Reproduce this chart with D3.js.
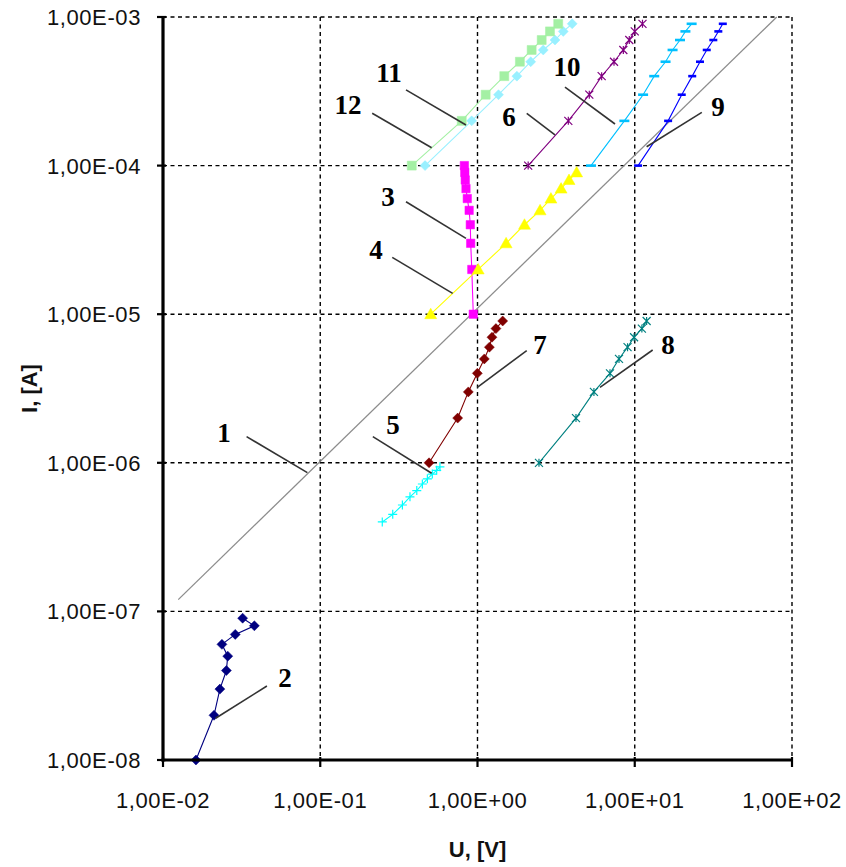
<!DOCTYPE html>
<html>
<head>
<meta charset="utf-8">
<script src="https://cdn.jsdelivr.net/npm/d3@7"></script>
<style>
  body { margin: 0; background: #fff; }
  svg { display: block; }
</style>
</head>
<body>
<svg id="chart"></svg>
<script>
// Axis decades
const xTicks = [1e-2, 1e-1, 1e0, 1e1, 1e2];
const yTicks = [1e-8, 1e-7, 1e-6, 1e-5, 1e-4, 1e-3];
const xTickLabels = ["1,00E-02", "1,00E-01", "1,00E+00", "1,00E+01", "1,00E+02"];
const yTickLabels = ["1,00E-08", "1,00E-07", "1,00E-06", "1,00E-05", "1,00E-04", "1,00E-03"];

// Series values, U in volts, I in amperes
const s1U = [0.0125, 80];
const s1I = [1.2e-7, 1e-3];
const s2U = [0.0162, 0.0211, 0.0230, 0.0253, 0.0258, 0.0237, 0.0288, 0.0381, 0.0321];
const s2I = [1e-8, 2e-8, 3e-8, 4e-8, 5e-8, 6e-8, 7e-8, 8e-8, 9e-8];
const s3U = [0.94, 0.92, 0.905, 0.90, 0.885, 0.861, 0.845, 0.836, 0.83, 0.825];
const s3I = [1e-5, 2e-5, 3e-5, 4e-5, 5e-5, 6e-5, 7e-5, 8e-5, 9e-5, 1e-4];
const s4U = [0.504, 1.01, 1.52, 1.99, 2.50, 2.93, 3.40, 3.82, 4.27];
const s4I = [1e-5, 2e-5, 3e-5, 4e-5, 5e-5, 6e-5, 7e-5, 8e-5, 9e-5];
const s5U = [0.248, 0.289, 0.333, 0.372, 0.411, 0.446, 0.480, 0.516, 0.550, 0.577];
const s5I = [4e-7, 4.5e-7, 5.2e-7, 5.9e-7, 6.5e-7, 7.2e-7, 7.8e-7, 8.4e-7, 8.9e-7, 9.4e-7];
const s6U = [2.10, 3.78, 5.14, 6.16, 7.38, 8.46, 9.23, 10.0, 11.2];
const s6I = [1e-4, 2e-4, 3e-4, 4e-4, 5e-4, 6e-4, 7e-4, 8e-4, 9e-4];
const s7U = [0.492, 0.748, 0.874, 0.997, 1.105, 1.19, 1.236, 1.31, 1.446];
const s7I = [1e-6, 2e-6, 3e-6, 4e-6, 5e-6, 6e-6, 7e-6, 8e-6, 9e-6];
const s8U = [2.46, 4.23, 5.5, 6.96, 7.94, 9.0, 9.9, 11.1, 11.9];
const s8I = [1e-6, 2e-6, 3e-6, 4e-6, 5e-6, 6e-6, 7e-6, 8e-6, 9e-6];
const s9U = [10.5, 16.3, 19.9, 23.2, 26.0, 28.7, 31.6, 34.0, 36.3];
const s9I = [1e-4, 2e-4, 3e-4, 4e-4, 5e-4, 6e-4, 7e-4, 8e-4, 9e-4];
const s10U = [5.27, 8.59, 11.3, 13.3, 15.7, 17.4, 19.4, 21.0, 23.0];
const s10I = [1e-4, 2e-4, 3e-4, 4e-4, 5e-4, 6e-4, 7e-4, 8e-4, 9e-4];
const s11U = [0.464, 0.918, 1.36, 1.78, 2.18, 2.62, 3.11, 3.51, 4.0];
const s11I = [1e-4, 2e-4, 3e-4, 4e-4, 5e-4, 6e-4, 7e-4, 8e-4, 9e-4];
const s12U = [0.382, 0.794, 1.127, 1.48, 1.86, 2.21, 2.56, 2.89, 3.26];
const s12I = [1e-4, 2e-4, 3e-4, 4e-4, 5e-4, 6e-4, 7e-4, 8e-4, 9e-4];

// Curve numbers: text anchor and leader line, all in (U, I)
const labelText = ["1", "2", "3", "4", "5", "6", "7", "8", "9", "10", "11", "12"];
const labelAt = [[0.0244, 1.6e-6], [0.0597, 3.56e-8], [0.27, 6.15e-5], [0.226, 2.7e-5],
  [0.29, 1.8e-6], [1.586, 2.12e-4], [2.497, 6.21e-6], [16.27, 6.21e-6],
  [33.8, 2.48e-4], [3.71, 4.61e-4], [0.274, 4.2e-4], [0.15, 2.56e-4]];
const leaderFrom = [[0.034, 1.5e-6], [0.0458, 3.15e-8], [0.351, 5.71e-5], [0.287, 2.41e-5],
  [0.216, 1.5e-6], [2.056, 2.25e-4], [2.056, 5.68e-6], [13.0, 5.74e-6],
  [26.7, 2.28e-4], [3.6, 3.37e-4], [0.351, 3.23e-4], [0.214, 2.25e-4]];
const leaderTo = [[0.0828, 8.58e-7], [0.0216, 1.91e-8], [0.845, 3.24e-5], [0.695, 1.38e-5],
  [0.511, 8.5e-7], [3.11, 1.61e-4], [0.997, 3.22e-6], [6.01, 3.22e-6],
  [11.9, 1.34e-4], [7.49, 1.905e-4], [0.845, 1.876e-4], [0.511, 1.32e-4]];

const width = 846, height = 867;
const margin = {top: 17, right: 54, bottom: 107, left: 163};

const svg = d3.select("#chart")
  .attr("width", width)
  .attr("height", height)
  .attr("viewBox", [0, 0, width, height]);

const x = d3.scaleLog().domain([1e-2, 1e2]).range([margin.left, width - margin.right]);
const y = d3.scaleLog().domain([1e-8, 1e-3]).range([height - margin.bottom, margin.top]);

// Dashed decade grid (also closes the plot on top and right)
const grid = svg.append("g").attr("stroke", "#000").attr("stroke-width", 1.4)
  .attr("stroke-dasharray", "4,3.5");
grid.selectAll("line.gx").data(xTicks.slice(1)).join("line")
  .attr("x1", d => x(d)).attr("x2", d => x(d))
  .attr("y1", y(1e-3)).attr("y2", y(1e-8));
grid.selectAll("line.gy").data(yTicks.slice(1)).join("line")
  .attr("x1", x(1e-2)).attr("x2", x(1e2))
  .attr("y1", d => y(d)).attr("y2", d => y(d));

// Series styles
const series = [
  {u: s1U, i: s1I, color: "#8c8c8c", marker: null, w: 1.3},
  {u: s2U, i: s2I, color: "#000080", marker: "diamond", size: 5},
  {u: s3U, i: s3I, color: "#ff00ff", marker: "square", size: 4.2},
  {u: s4U, i: s4I, color: "#ffff00", marker: "triangle", size: 6},
  {u: s5U, i: s5I, color: "#00ffff", marker: "plus", size: 4.5},
  {u: s6U, i: s6I, color: "#800080", marker: "star", size: 4},
  {u: s7U, i: s7I, color: "#800000", marker: "diamond", size: 5},
  {u: s8U, i: s8I, color: "#008080", marker: "star", size: 4},
  {u: s9U, i: s9I, color: "#0000ff", marker: "dash", size: 4},
  {u: s10U, i: s10I, color: "#00c0ff", marker: "dash", size: 5},
  {u: s11U, i: s11I, color: "#99f0ff", marker: "diamond", size: 5},
  {u: s12U, i: s12I, color: "#a4f0a4", marker: "square", size: 4.5}
];

function markerPath(kind, s) {
  if (kind == "diamond") return `M0,${-s}L${s},0L0,${s}L${-s},0Z`;
  if (kind == "square") return `M${-s},${-s}H${s}V${s}H${-s}Z`;
  if (kind == "triangle") return `M0,${-s}L${s},${s * 0.75}L${-s},${s * 0.75}Z`;
  if (kind == "plus") return `M${-s},0H${s}M0,${-s}V${s}`;
  if (kind == "star") return `M${-s},${-s}L${s},${s}M${-s},${s}L${s},${-s}M0,${-s}V${s}`;
  if (kind == "dash") return `M${-s},0H${s}`;
  return "";
}

const line = d3.line().x(d => x(d[0])).y(d => y(d[1]));

// Draw every curve.
const curves = svg.append("g");
series.forEach((s) => {
  let pts = s.u.map((u, k) => [u, s.i[k]]);
  curves.append("path")
    .attr("d", line(pts))
    .attr("fill", "none")
    .attr("stroke", s.color)
    .attr("stroke-width", s.w || 1.1);
  if (s.marker == null) return;
  let filled = s.marker == "diamond" || s.marker == "square" || s.marker == "triangle";
  curves.append("g").selectAll("path").data(pts).join("path")
    .attr("transform", d => "translate(" + x(d[0]) + "," + y(d[1]) + ")")
    .attr("d", markerPath(s.marker, s.size))
    .attr("fill", filled ? s.color : "none")
    .attr("stroke", s.color)
    .attr("stroke-width", s.marker == "dash" ? 2.6 : (filled ? 0.5 : 1.2));
});

// Axes: thick black lines with crossing ticks
const axes = svg.append("g").attr("stroke", "#000");
axes.append("line")
  .attr("x1", x(1e-2)).attr("x2", x(1e-2))
  .attr("y1", y(1e-3) - 1).attr("y2", y(1e-8) + 1.5)
  .attr("stroke-width", 3.2);
axes.append("line")
  .attr("x1", x(1e-2) - 1.5).attr("x2", x(1e2) + 1)
  .attr("y1", y(1e-8)).attr("y2", y(1e-8))
  .attr("stroke-width", 3.2);
axes.selectAll("line.ty").data(yTicks).join("line")
  .attr("x1", x(1e-2) - 6).attr("x2", x(1e-2) + 3)
  .attr("y1", d => y(d)).attr("y2", d => y(d))
  .attr("stroke-width", 2.2);
axes.selectAll("line.tx").data(xTicks).join("line")
  .attr("x1", d => x(d)).attr("x2", d => x(d))
  .attr("y1", y(1e-8) - 3).attr("y2", y(1e-8) + 7)
  .attr("stroke-width", 2.2);

// Tick labels
const tickFont = "'Liberation Sans', Arial, sans-serif";
svg.append("g").selectAll("text").data(yTicks).join("text")
  .attr("x", x(1e-2) - 22)
  .attr("y", d => y(d))
  .attr("dy", "0.36em")
  .attr("text-anchor", "end")
  .attr("font-family", tickFont)
  .attr("font-size", 22)
  .attr("letter-spacing", 0.6)
  .attr("fill", "#111")
  .text((d, k) => yTickLabels[k]);
svg.append("g").selectAll("text").data(xTicks).join("text")
  .attr("x", d => x(d))
  .attr("y", y(1e-8) + 48)
  .attr("text-anchor", "middle")
  .attr("font-family", tickFont)
  .attr("font-size", 22)
  .attr("letter-spacing", 0.6)
  .attr("fill", "#111")
  .text((d, k) => xTickLabels[k]);

// Axis titles
svg.append("text")
  .attr("x", (x(1e-2) + x(1e2)) / 2)
  .attr("y", height - 10)
  .attr("text-anchor", "middle")
  .attr("font-family", tickFont)
  .attr("font-size", 22)
  .attr("font-weight", "bold")
  .attr("fill", "#111")
  .text("U, [V]");
svg.append("text")
  .attr("transform", "translate(37," + ((y(1e-3) + y(1e-8)) / 2) + ") rotate(-90)")
  .attr("text-anchor", "middle")
  .attr("font-family", tickFont)
  .attr("font-size", 22)
  .attr("font-weight", "bold")
  .attr("fill", "#111")
  .text("I, [A]");

// Curve numbers with leader lines
const notes = svg.append("g");
notes.selectAll("line").data(labelText).join("line")
  .attr("x1", (d, k) => x(leaderFrom[k][0])).attr("y1", (d, k) => y(leaderFrom[k][1]))
  .attr("x2", (d, k) => x(leaderTo[k][0])).attr("y2", (d, k) => y(leaderTo[k][1]))
  .attr("stroke", "#333")
  .attr("stroke-width", 1.6);
notes.selectAll("text").data(labelText).join("text")
  .attr("x", (d, k) => x(labelAt[k][0]))
  .attr("y", (d, k) => y(labelAt[k][1]))
  .attr("dy", "0.34em")
  .attr("text-anchor", "middle")
  .attr("font-family", "'Liberation Serif', 'Times New Roman', serif")
  .attr("font-weight", "bold")
  .attr("font-size", 27)
  .attr("fill", "#000")
  .text(d => d);
</script>
</body>
</html>
